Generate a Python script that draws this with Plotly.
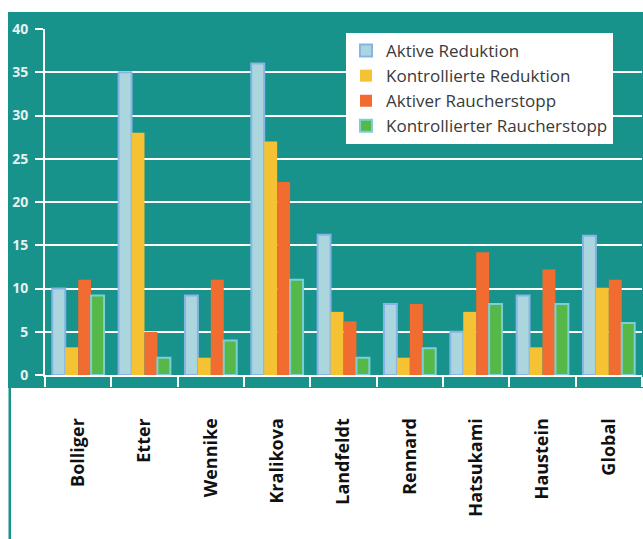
import plotly.graph_objects as go

categories = ["Bolliger", "Etter", "Wennike", "Kralikova", "Landfeldt",
              "Rennard", "Hatsukami", "Haustein", "Global"]
aktive_reduktion = [10, 35, 9.2, 36, 16.2, 8.2, 5, 9.2, 16.1]
kontrollierte_reduktion = [3.2, 28, 2, 27, 7.3, 2, 7.3, 3.2, 10.1]
aktiver_stopp = [11, 5, 11, 22.3, 6.2, 8.2, 14.2, 12.2, 11]
kontrollierter_stopp = [9.2, 2, 4, 11, 2, 3.1, 8.2, 8.2, 6]
series_names = ["Aktive Reduktion", "Kontrollierte Reduktion",
                "Aktiver Raucherstopp", "Kontrollierter Raucherstopp"]
y_ticks = [0, 5, 10, 15, 20, 25, 30, 35, 40]

TEAL = "#17938b"
W, H = 643, 539
L, R, T, B = 45, 1, 29, 164
pw, ph = W - L - R, H - T - B


def px_x(px):
    return (px - L) / pw


def px_y(py):
    return (H - B - py) / ph


fig = go.Figure()
styles = [
    dict(color="#acd6dd", line=dict(color="#86b4e6", width=2)),
    dict(color="#f4c232", line=dict(color="#f4c232", width=0)),
    dict(color="#f06c30", line=dict(color="#f06c30", width=0)),
    dict(color="#55b848", line=dict(color="#7dcfd6", width=2)),
]
for name, vals, st in zip(series_names,
                          [aktive_reduktion, kontrollierte_reduktion, aktiver_stopp, kontrollierter_stopp],
                          styles):
    fig.add_trace(go.Bar(x=categories, y=vals, name=name, marker=st))

shapes = [
    dict(type="rect", xref="paper", yref="paper", layer="below",
         x0=px_x(8), x1=px_x(645), y0=px_y(388), y1=px_y(12),
         fillcolor=TEAL, line=dict(width=0)),
    dict(type="rect", xref="paper", yref="paper", layer="below",
         x0=px_x(8.5), x1=px_x(11), y0=px_y(541), y1=px_y(388),
         fillcolor=TEAL, line=dict(width=0)),
]

fig.update_layout(
    width=W, height=H,
    margin=dict(l=L, r=R, t=T, b=B),
    paper_bgcolor="white",
    plot_bgcolor=TEAL,
    barmode="group",
    bargap=0.22,
    bargroupgap=0.0,
    shapes=shapes,
    font=dict(family="Open Sans", color="#333333"),
    legend=dict(x=px_x(346), y=px_y(33), xanchor="left", yanchor="top",
                bgcolor="white", borderwidth=0,
                font=dict(size=17, color="#3a3a3a", family="Open Sans"),
                tracegroupgap=0, itemsizing="constant"),
    xaxis=dict(
        tickangle=-90,
        tickfont=dict(size=18, color="#111111", family="Open Sans", weight="bold"),
        showline=True, linecolor="white", linewidth=2,
        ticks="outside", tickson="boundaries", ticklen=10, tickcolor="white", tickwidth=2,
        ticklabelstandoff=34,
        showgrid=False,
    ),
    yaxis=dict(
        range=[0, 40], tickvals=y_ticks,
        tickfont=dict(size=14, color="#e6f0ef", family="Open Sans", weight="bold"),
        showline=True, linecolor="white", linewidth=2,
        ticks="outside", ticklen=8, tickcolor="white", tickwidth=2,
        ticklabelstandoff=4,
        showgrid=True, gridcolor="white", gridwidth=2,
        zeroline=False,
    ),
)

fig.write_html("out.html")
